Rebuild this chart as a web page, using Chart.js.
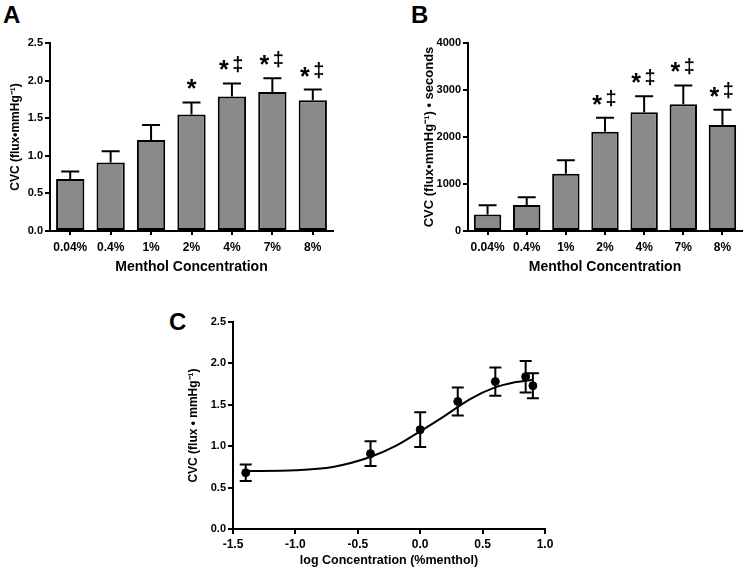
<!DOCTYPE html>
<html>
<head>
<meta charset="utf-8">
<script src="https://cdn.jsdelivr.net/npm/chart.js@4"></script>
<style>
  body { margin: 0; background: #fff; width: 755px; height: 572px; position: relative; overflow: hidden; }
  canvas { position: absolute; }
  .tag { position: absolute; font: bold 24px "Liberation Sans", Arial, sans-serif; color: #000; }
</style>
</head>
<body>
<div class="tag" style="left:3px;top:1px;">A</div>
<div class="tag" style="left:411px;top:1px;">B</div>
<div class="tag" style="left:169px;top:308px;">C</div>
<canvas id="chartA" width="370" height="280" style="left:0;top:0"></canvas>
<canvas id="chartB" width="385" height="280" style="left:370px;top:0"></canvas>
<canvas id="chartC" width="420" height="292" style="left:140px;top:280px"></canvas>
<script>
const concLabels = ['0.04%', '0.4%', '1%', '2%', '4%', '7%', '8%'];
const cvcMean = [0.69, 0.91, 1.21, 1.55, 1.79, 1.85, 1.74];
const cvcSem = [0.10, 0.15, 0.20, 0.16, 0.17, 0.18, 0.14];
const aucMean = [350, 555, 1220, 2110, 2525, 2695, 2255];
const aucSem = [200, 165, 285, 300, 340, 400, 325];
const sigA = ['', '', '', '*', '* ‡', '* ‡', '* ‡'];
const sigB = ['', '', '', '* ‡', '* ‡', '* ‡', '* ‡'];

const logConc = [-1.398, -0.398, 0.0, 0.301, 0.602, 0.845, 0.903];
const logMean = [0.68, 0.91, 1.20, 1.54, 1.78, 1.84, 1.73];
const logSem = [0.10, 0.15, 0.21, 0.17, 0.17, 0.19, 0.15];
const fitX = [-1.4, -1.0, -0.7, -0.4, -0.2, 0.0, 0.2, 0.4, 0.6, 0.75, 0.9];
const fitY = [0.70, 0.71, 0.75, 0.87, 1.00, 1.18, 1.37, 1.57, 1.71, 1.77, 1.80];

const FONT = '"Liberation Sans", Arial, sans-serif';
Chart.defaults.font.family = FONT;
Chart.defaults.color = '#000';

// whiskers + significance marks over each point/bar
const errorBars = {
  id: 'errorBars',
  afterDatasetsDraw(chart, args, opts) {
    if (!opts.mean) return;
    const ctx = chart.ctx;
    const y = chart.scales.y;
    const meta = chart.getDatasetMeta(opts.dataset || 0);
    ctx.save();
    ctx.strokeStyle = '#000';
    ctx.lineWidth = 2;
    meta.data.forEach((el, i) => {
      const m = opts.mean[i], e = opts.err[i];
      const top = y.getPixelForValue(m + e);
      const bot = y.getPixelForValue(opts.both ? m - e : m);
      const half = opts.cap / 2;
      ctx.beginPath();
      ctx.moveTo(el.x, bot);
      ctx.lineTo(el.x, top);
      ctx.moveTo(el.x - half, top);
      ctx.lineTo(el.x + half, top);
      if (opts.both) {
        ctx.moveTo(el.x - half, bot);
        ctx.lineTo(el.x + half, bot);
      }
      ctx.stroke();
      const mark = opts.marks ? opts.marks[i] : '';
      if (mark) {
        const parts = mark.split(' ');
        ctx.fillStyle = '#000';
        ctx.textAlign = 'center';
        ctx.textBaseline = 'middle';
        const sx = parts.length > 1 ? el.x - 8 : el.x;
        ctx.font = 'bold 25px ' + FONT;
        ctx.fillText(parts[0], sx, top - 12);
        if (parts.length > 1) {
          ctx.font = 'bold 20px ' + FONT;
          ctx.fillText(parts[1], el.x + 6, top - 18);
        }
      }
    });
    ctx.restore();
  }
};

function axisStyle() {
  return {
    border: { display: true, color: '#000', width: 2 },
    grid: { display: true, drawOnChartArea: false, drawTicks: true, tickLength: 5, color: '#000', lineWidth: 2 },
  };
}

function barChart(id, values, errs, marks, yMax, yStep, yTitle, titleSize, yFmt, pad, yWidth) {
  new Chart(document.getElementById(id), {
    type: 'bar',
    data: {
      labels: concLabels,
      datasets: [{
        data: values,
        backgroundColor: '#8a8a8a',
        borderColor: '#000',
        borderWidth: 2,
        borderSkipped: false,
        barPercentage: 0.7,
        categoryPercentage: 1.0
      }]
    },
    options: {
      responsive: false,
      animation: false,
      layout: { padding: pad },
      plugins: {
        legend: { display: false },
        tooltip: { enabled: false },
        errorBars: { mean: values, err: errs, marks: marks, cap: 18 }
      },
      scales: {
        x: {
          ...axisStyle(),
          grid: { display: true, drawOnChartArea: false, tickLength: 4, color: '#000', lineWidth: 2, offset: false },
          ticks: { font: { size: 12, weight: 'bold' }, padding: 5, maxRotation: 0 },
          title: { display: true, text: 'Menthol Concentration', font: { size: 14, weight: 'bold' } },
          afterFit: s => { s.height = 49; }
        },
        y: {
          ...axisStyle(),
          min: 0, max: yMax,
          ticks: { stepSize: yStep, font: { size: 11, weight: 'bold' }, padding: 2, callback: yFmt },
          title: { display: true, text: yTitle, font: { size: titleSize, weight: 'bold' } },
          afterFit: s => { s.width = yWidth; }
        }
      }
    },
    plugins: [errorBars]
  });
}

barChart('chartA', cvcMean, cvcSem, sigA, 2.5, 0.5, 'CVC (flux•mmHg⁻¹)', 12,
  v => v.toFixed(1), { top: 43, right: 37, left: 4, bottom: 0 }, 46);
barChart('chartB', aucMean, aucSem, sigB, 4000, 1000, 'CVC (flux•mmHg⁻¹) • seconds', 13,
  v => v, { top: 43, right: 13, left: 48, bottom: 0 }, 50);

new Chart(document.getElementById('chartC'), {
  type: 'scatter',
  data: {
    datasets: [{
      data: fitX.map((x, i) => ({ x: x, y: fitY[i] })),
      showLine: true,
      borderColor: '#000',
      borderWidth: 2,
      pointRadius: 0,
      cubicInterpolationMode: 'monotone'
    }, {
      data: logConc.map((x, i) => ({ x: x, y: logMean[i] })),
      backgroundColor: '#000',
      borderColor: '#000',
      pointRadius: 4
    }]
  },
  options: {
    responsive: false,
    animation: false,
    layout: { padding: { top: 42, right: 15, left: 42, bottom: 0 } },
    plugins: {
      legend: { display: false },
      tooltip: { enabled: false },
      errorBars: { dataset: 1, mean: logMean, err: logSem, both: true, cap: 12 }
    },
    scales: {
      x: {
        ...axisStyle(),
        min: -1.5, max: 1.0,
        ticks: { stepSize: 0.5, font: { size: 12, weight: 'bold' }, padding: 3, callback: v => v.toFixed(1) },
        title: { display: true, text: 'log Concentration (%menthol)', font: { size: 12.5, weight: 'bold' } },
        afterFit: s => { s.height = 43; }
      },
      y: {
        ...axisStyle(),
        min: 0, max: 2.5,
        ticks: { stepSize: 0.5, font: { size: 11, weight: 'bold' }, padding: 2, callback: v => v.toFixed(1) },
        title: { display: true, text: 'CVC (flux • mmHg⁻¹)', font: { size: 12, weight: 'bold' } },
        afterFit: s => { s.width = 51; }
      }
    }
  },
  plugins: [errorBars]
});
</script>
</body>
</html>
